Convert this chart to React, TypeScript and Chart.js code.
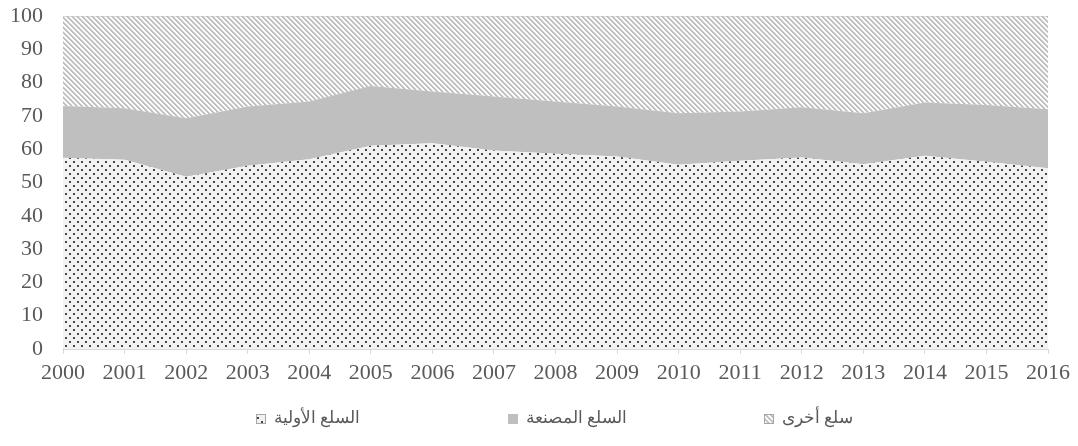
import { useEffect, useRef } from 'react';
import { Chart, registerables } from 'chart.js';

Chart.register(...registerables);

const years = ['2000', '2001', '2002', '2003', '2004', '2005', '2006', '2007', '2008', '2009', '2010', '2011', '2012', '2013', '2014', '2015', '2016'];
const primaryGoods = [57.4, 56.8, 51.7, 55, 57, 61, 61.8, 59.6, 58.6, 57.8, 55.3, 56.5, 57.5, 55.5, 58, 56.2, 54.3];
const manufacturedGoods = [15.6, 15.5, 17.6, 17.8, 17.3, 18, 15.5, 16.2, 15.7, 15, 15.5, 14.8, 15.1, 15.3, 16, 17.1, 17.7];
const otherGoods = [27, 27.7, 30.7, 27.2, 25.7, 21, 22.7, 24.2, 25.7, 27.2, 29.2, 28.7, 27.4, 29.2, 26, 26.7, 28];
const seriesLabels = ['السلع الأولية', 'السلع المصنعة', 'سلع أخرى'];
const yTicks = [0, 10, 20, 30, 40, 50, 60, 70, 80, 90, 100];

const FONT = "'Times New Roman', 'Liberation Serif', 'DejaVu Serif', serif";
const TEXT = '#595959';

function dotPattern(ctx: CanvasRenderingContext2D) {
  const c = document.createElement('canvas');
  c.width = 8; c.height = 8;
  const g = c.getContext('2d')!;
  g.fillStyle = '#f2f2f2';
  g.fillRect(0, 0, 8, 8);
  g.fillStyle = '#474747';
  g.fillRect(1, 1, 2, 2);
  g.fillRect(5, 5, 2, 2);
  return ctx.createPattern(c, 'repeat')!;
}

function stripePattern(ctx: CanvasRenderingContext2D) {
  const n = 5;
  const c = document.createElement('canvas');
  c.width = n; c.height = n;
  const g = c.getContext('2d')!;
  g.fillStyle = '#ffffff';
  g.fillRect(0, 0, n, n);
  for (let y = 0; y < n; y++) {
    for (let x = 0; x < n; x++) {
      const m = (((x - y) % n) + n) % n;
      if (m < 2) {
        g.fillStyle = '#bfbfbf';
        g.fillRect(x, y, 1, 1);
      } else if (m === 2) {
        g.fillStyle = '#dedede';
        g.fillRect(x, y, 1, 1);
      }
    }
  }
  return ctx.createPattern(c, 'repeat')!;
}

const legendPlugin = {
  id: 'customLegend',
  afterDraw(chart: any) {
    const ctx = chart.ctx as CanvasRenderingContext2D;
    const ds = chart.data.datasets;
    const iconX = [256, 508, 764];
    const cy = 419;
    ctx.save();
    ds.forEach((d: any, i: number) => {
      const x = iconX[i];
      ctx.fillStyle = d.backgroundColor;
      ctx.fillRect(x, cy - 5, 10, 10);
      if (i !== 1) {
        ctx.strokeStyle = '#a6a6a6';
        ctx.lineWidth = 1;
        ctx.strokeRect(x + 0.5, cy - 4.5, 9, 9);
      }
      ctx.fillStyle = TEXT;
      ctx.font = `17px ${FONT}`;
      ctx.textAlign = 'left';
      ctx.textBaseline = 'middle';
      ctx.fillText(d.label, x + 18, cy);
    });
    ctx.restore();
  },
};

export default function App() {
  const ref = useRef<HTMLCanvasElement>(null);
  useEffect(() => {
    const canvas = ref.current!;
    const ctx = canvas.getContext('2d')!;
    const chart = new Chart(ctx, {
      type: 'line',
      data: {
        labels: years,
        datasets: [
          {
            label: seriesLabels[0],
            data: primaryGoods,
            backgroundColor: dotPattern(ctx),
            borderWidth: 0,
            pointRadius: 0,
            fill: 'origin',
          },
          {
            label: seriesLabels[1],
            data: manufacturedGoods,
            backgroundColor: '#bfbfbf',
            borderWidth: 0,
            pointRadius: 0,
            fill: '-1',
          },
          {
            label: seriesLabels[2],
            data: otherGoods,
            backgroundColor: stripePattern(ctx),
            borderColor: '#bfbfbf',
            borderWidth: 1,
            pointRadius: 0,
            fill: '-1',
          },
        ],
      },
      options: {
        animation: false,
        responsive: false,
        devicePixelRatio: 1,
        layout: { padding: { left: 0, top: 16, right: 30, bottom: 0 } },
        plugins: { legend: { display: false }, tooltip: { enabled: false } },
        elements: { line: { tension: 0 } },
        scales: {
          x: {
            type: 'category',
            offset: false,
            grid: { drawOnChartArea: false, drawTicks: true, tickLength: 5, color: '#d9d9d9' },
            border: { color: '#d9d9d9' },
            ticks: { color: TEXT, font: { family: FONT, size: 22 }, padding: 6, maxRotation: 0, autoSkip: false },
            afterFit: (s: any) => { s.height = 97; },
          },
          y: {
            stacked: true,
            min: 0,
            max: 100,
            afterBuildTicks: (s: any) => { s.ticks = yTicks.map((v) => ({ value: v })); },
            grid: { display: false, drawTicks: false },
            border: { display: true, color: '#bfbfbf' },
            ticks: { color: TEXT, font: { family: FONT, size: 22 }, padding: 20 },
            afterFit: (s: any) => { s.width = 63; s.paddingTop = 0; s.paddingBottom = 0; },
          },
        },
      },
      plugins: [legendPlugin],
    });
    return () => chart.destroy();
  }, []);
  return (
    <div style={{ position: 'absolute', left: 0, top: 0, width: 1078, height: 446 }}>
      <canvas ref={ref} width={1078} height={446} />
    </div>
  );
}
